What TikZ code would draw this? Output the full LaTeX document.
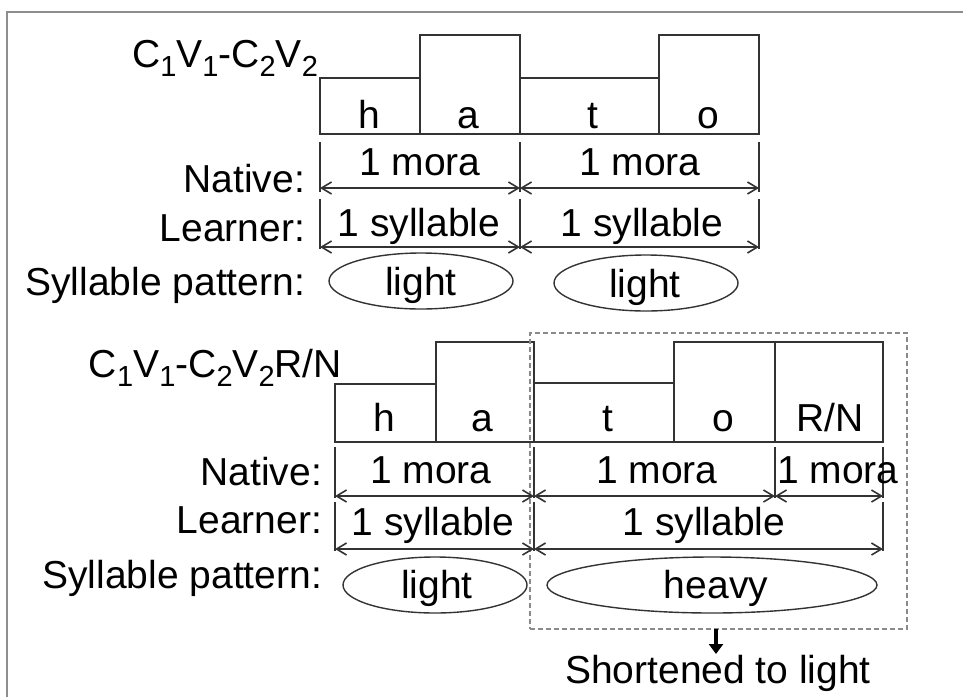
\documentclass[tikz,border=0pt]{standalone}
\usepackage{fontspec}
\setmainfont{Liberation Sans}
\usetikzlibrary{arrows.meta,shapes.geometric,fit}
\definecolor{ln}{HTML}{333333}
\definecolor{framec}{HTML}{8E8E8E}
\definecolor{dashc}{HTML}{8A8A8A}
\newcommand{\sbs}[1]{\raisebox{-0.24em}{\fontsize{14.5}{15}\selectfont #1}}
\begin{document}
\begin{tikzpicture}[x=0.5pt,y=-0.5pt,
  every node/.style={font=\fontsize{19.5}{23}\selectfont, inner sep=0pt, outer sep=0pt},
  blk/.style={draw=ln, line width=0.85pt, inner sep=0pt, rectangle},
  lbl/.style={anchor=base east},
  txt/.style={anchor=base},
  tick/.style={draw=ln, line width=0.7pt},
  dimarr/.style={draw=ln, line width=0.8pt, {Straight Barb[length=5pt,width=6pt]}-{Straight Barb[length=5pt,width=6pt]}},
  oval/.style={ellipse, draw=ln, line width=0.7pt, inner sep=0pt},
  dashbox/.style={draw=dashc, line width=0.9pt, dash pattern=on 2.5pt off 1.5pt, inner sep=0pt, rectangle},
  downarr/.style={draw=black, line width=1.6pt, -{Triangle[length=5pt,width=7pt]}},
  framel/.style={draw=framec, line width=0.8pt}
]
\useasboundingbox (0,0) rectangle (963,697);

% frame
\coordinate (fr1) at (963,12);
\coordinate (fr2) at (7,12);
\coordinate (fr3) at (7,697);
\draw[framel] (fr1) -- (fr2) -- (fr3);

% ================= TOP =================
\node[lbl] (t-title) at (318,67) {C\sbs{1}V\sbs{1}-C\sbs{2}V\sbs{2}};

\node[blk, fit={(320,78)(420,134)}] (t-h) {};
\node[blk, fit={(420,35)(520,134)}] (t-a) {};
\node[blk, fit={(520,78)(659,134)}] (t-t) {};
\node[blk, fit={(659,35)(759,134)}] (t-o) {};
\node[txt] (t-hl) at (369,128) {h};
\node[txt] (t-al) at (468,128) {a};
\node[txt] (t-tl) at (593,128) {t};
\node[txt] (t-ol) at (708,128) {o};

% Native
\node[lbl] (t-nat) at (305,192) {Native:};
\coordinate (tn1a) at (320,142); \coordinate (tn1b) at (320,192);
\coordinate (tn2a) at (520,142); \coordinate (tn2b) at (520,192);
\coordinate (tn3a) at (759,142); \coordinate (tn3b) at (759,192);
\draw[tick] (tn1a) -- (tn1b);
\draw[tick] (tn2a) -- (tn2b);
\draw[tick] (tn3a) -- (tn3b);
\coordinate (tna1) at (320,188); \coordinate (tna2) at (520,188); \coordinate (tna3) at (759,188);
\draw[dimarr] (tna1) -- (tna2);
\draw[dimarr] (tna2) -- (tna3);
\node[txt] (t-m1) at (420,175) {1 mora};
\node[txt] (t-m2) at (640,175) {1 mora};

% Learner
\node[lbl] (t-lea) at (305,241) {Learner:};
\coordinate (tl1a) at (320,199); \coordinate (tl1b) at (320,249);
\coordinate (tl2a) at (520,199); \coordinate (tl2b) at (520,249);
\coordinate (tl3a) at (759,199); \coordinate (tl3b) at (759,249);
\draw[tick] (tl1a) -- (tl1b);
\draw[tick] (tl2a) -- (tl2b);
\draw[tick] (tl3a) -- (tl3b);
\coordinate (tla1) at (320,247); \coordinate (tla2) at (520,247); \coordinate (tla3) at (759,247);
\draw[dimarr] (tla1) -- (tla2);
\draw[dimarr] (tla2) -- (tla3);
\node[txt] (t-s1) at (419,236) {1 syllable};
\node[txt] (t-s2) at (642,236) {1 syllable};

% Syllable pattern
\node[lbl] (t-sp) at (305,295) {Syllable pattern:};
\node[oval, minimum width=92pt, minimum height=28pt] (t-e1) at (421,281) {};
\node[oval, minimum width=92pt, minimum height=28pt] (t-e2) at (646,283) {};
\node[txt] (t-e1t) at (421,295) {light};
\node[txt] (t-e2t) at (645,297) {light};

% ================= BOTTOM =================
\node[lbl] (b-title) at (342,377) {C\sbs{1}V\sbs{1}-C\sbs{2}V\sbs{2}R/N};

\node[blk, fit={(335,384)(436,442)}] (b-h) {};
\node[blk, fit={(436,342)(534,442)}] (b-a) {};
\node[blk, fit={(534,383)(674,442)}] (b-t) {};
\node[blk, fit={(674,342)(775,442)}] (b-o) {};
\node[blk, fit={(775,342)(883,442)}] (b-r) {};
\node[txt] (b-hl) at (384,431) {h};
\node[txt] (b-al) at (482,431) {a};
\node[txt] (b-tl) at (608,431) {t};
\node[txt] (b-ol) at (723,431) {o};
\node[txt] (b-rl) at (830,431) {R/N};

% dashed box
\node[dashbox, fit={(530,333)(907,629)}] (b-box) {};

% Native
\node[lbl] (b-nat) at (322,485) {Native:};
\coordinate (bn1a) at (335,447); \coordinate (bn1b) at (335,498);
\coordinate (bn2a) at (534,447); \coordinate (bn2b) at (534,498);
\coordinate (bn3a) at (775,447); \coordinate (bn3b) at (775,498);
\coordinate (bn4a) at (883,447); \coordinate (bn4b) at (883,498);
\draw[tick] (bn1a) -- (bn1b);
\draw[tick] (bn2a) -- (bn2b);
\draw[tick] (bn3a) -- (bn3b);
\draw[tick] (bn4a) -- (bn4b);
\coordinate (bna1) at (335,496); \coordinate (bna2) at (534,496);
\coordinate (bna3) at (775,496); \coordinate (bna4) at (883,496);
\draw[dimarr] (bna1) -- (bna2);
\draw[dimarr] (bna2) -- (bna3);
\draw[dimarr] (bna3) -- (bna4);
\node[txt] (b-m1) at (431,483) {1 mora};
\node[txt] (b-m2) at (657,483) {1 mora};
\node[txt] (b-m3) at (838,483) {1 mora};

% Learner
\node[lbl] (b-lea) at (322,533) {Learner:};
\coordinate (bl1a) at (335,502); \coordinate (bl1b) at (335,551);
\coordinate (bl2a) at (534,502); \coordinate (bl2b) at (534,551);
\coordinate (bl3a) at (883,502); \coordinate (bl3b) at (883,551);
\draw[tick] (bl1a) -- (bl1b);
\draw[tick] (bl2a) -- (bl2b);
\draw[tick] (bl3a) -- (bl3b);
\coordinate (bla1) at (335,549); \coordinate (bla2) at (534,549); \coordinate (bla3) at (883,549);
\draw[dimarr] (bla1) -- (bla2);
\draw[dimarr] (bla2) -- (bla3);
\node[txt] (b-s1) at (433,535) {1 syllable};
\node[txt] (b-s2) at (704,535) {1 syllable};

% Syllable pattern
\node[lbl] (b-sp) at (322,588) {Syllable pattern:};
\node[oval, minimum width=92pt, minimum height=28pt] (b-e1) at (435,585) {};
\node[oval, minimum width=165pt, minimum height=28pt] (b-e2) at (712,585) {};
\node[txt] (b-e1t) at (437,598) {light};
\node[txt] (b-e2t) at (716,598) {heavy};

% shortened
\node[txt] (b-short) at (718,683) {Shortened to light};
\coordinate (arrtop) at (716,629);
\coordinate (arrbot) at (716,654);
\draw[downarr] (arrtop) -- (arrbot);

\end{tikzpicture}
\end{document}
